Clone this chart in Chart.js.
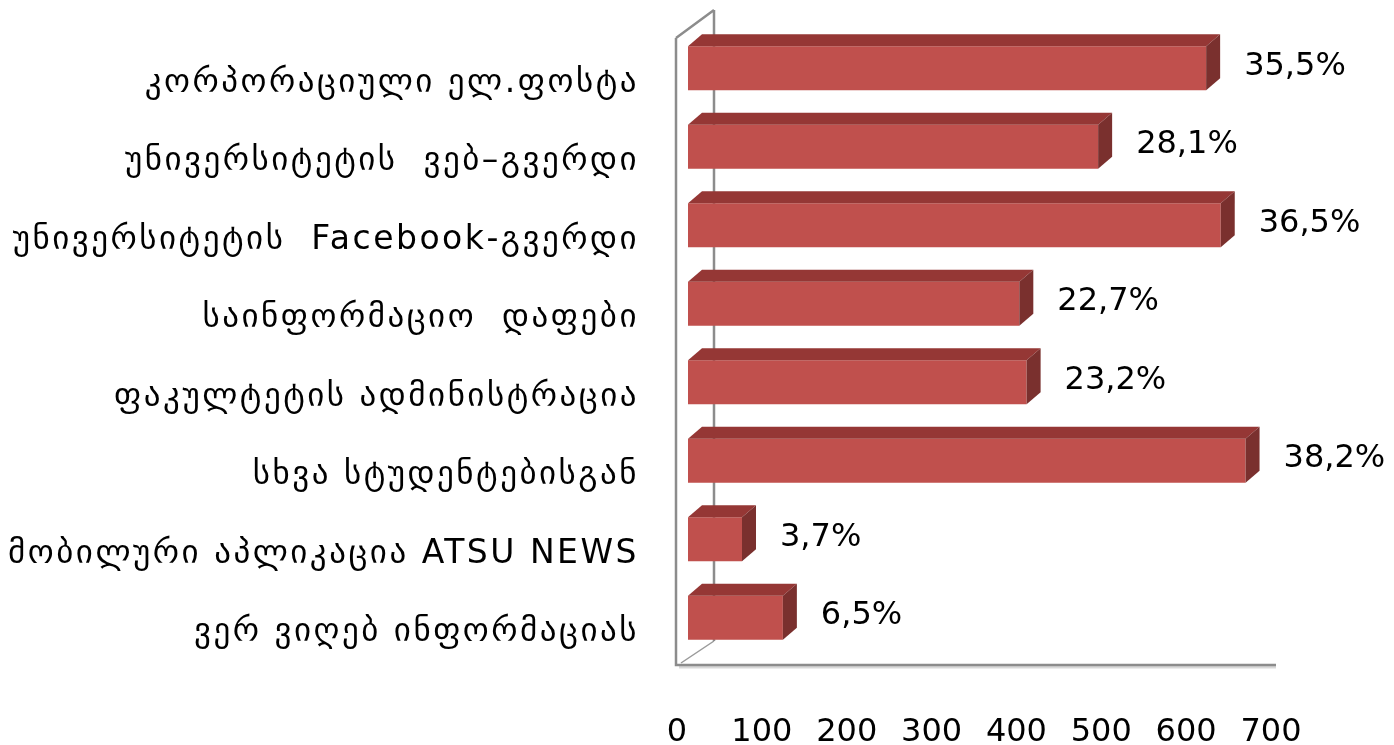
<!DOCTYPE html>
<html>
<head>
<meta charset="utf-8">
<script src="https://cdn.jsdelivr.net/npm/chart.js@4.4.1/dist/chart.umd.min.js"></script>
<style>
  html, body { margin: 0; padding: 0; background: #ffffff; }
  #wrap { width: 1394px; height: 745px; }
</style>
</head>
<body>
<div id="wrap"><canvas id="sources" width="1394" height="745"></canvas></div>
<script>
// survey: where students get university information from
var categories = [
  "კორპორაციული ელ.ფოსტა",
  "უნივერსიტეტის  ვებ–გვერდი",
  "უნივერსიტეტის  Facebook-გვერდი",
  "საინფორმაციო  დაფები",
  "ფაკულტეტის ადმინისტრაცია",
  "სხვა სტუდენტებისგან",
  "მობილური აპლიკაცია ATSU NEWS",
  "ვერ ვიღებ ინფორმაციას"
];
var percents = [35.5, 28.1, 36.5, 22.7, 23.2, 38.2, 3.7, 6.5];
var percentLabels = ["35,5%", "28,1%", "36,5%", "22,7%", "23,2%", "38,2%", "3,7%", "6,5%"];
// bottom axis counts respondents, not percent
var respondents = 1720;
var countTicks = [0, 100, 200, 300, 400, 500, 600, 700];

var front = "#c0504d", topFace = "#953735", sideFace = "#7a302e";
var depthX = 14, depthY = 12;

// back wall and floor of the 3d box
var wallPlugin = {
  id: "wall",
  beforeDatasetsDraw: function(chart) {
    var c = chart.ctx, a = chart.chartArea;
    var fl = a.left - 12, fb = a.bottom + 8, ft = a.top + 9;
    var bl = a.left + 26, bb = a.bottom - 16, bt = a.top - 19;
    c.save();
    c.lineWidth = 3;
    c.strokeStyle = "#d9d9d9";
    c.beginPath();
    c.moveTo(fl + 3, fb + 2); c.lineTo(a.right - 6, fb + 2);
    c.stroke();
    c.strokeStyle = "#8c8c8c";
    c.lineWidth = 2.5;
    c.beginPath();
    c.moveTo(bl, bt); c.lineTo(bl, bb);
    c.moveTo(fl, ft); c.lineTo(bl, bt);
    c.moveTo(fl, ft); c.lineTo(fl, fb);
    c.lineTo(a.right - 6, fb);
    c.stroke();
    c.lineWidth = 1.5;
    c.strokeStyle = "#9a9a9a";
    c.beginPath();
    c.moveTo(fl + 5, fb - 2); c.lineTo(bl, bb);
    c.stroke();
    c.restore();
  }
};

// top and side faces of each bar plus the percent labels
var boxPlugin = {
  id: "box",
  afterDatasetsDraw: function(chart) {
    var c = chart.ctx;
    var meta = chart.getDatasetMeta(0);
    c.save();
    meta.data.forEach(function(el, i) {
      var p = el.getProps(["x", "y", "base", "height"], true);
      var t = p.y - p.height / 2, b = p.y + p.height / 2;
      c.fillStyle = topFace;
      c.beginPath();
      c.moveTo(p.base, t); c.lineTo(p.x, t);
      c.lineTo(p.x + depthX, t - depthY); c.lineTo(p.base + depthX, t - depthY);
      c.closePath(); c.fill();
      c.fillStyle = sideFace;
      c.beginPath();
      c.moveTo(p.x, t); c.lineTo(p.x + depthX, t - depthY);
      c.lineTo(p.x + depthX, b - depthY); c.lineTo(p.x, b);
      c.closePath(); c.fill();
      c.fillStyle = "#000000";
      c.font = "32px 'DejaVu Sans'";
      c.textAlign = "left";
      c.textBaseline = "middle";
      c.fillText(percentLabels[i], p.x + 38, p.y - 2);
    });
    c.restore();
  }
};

new Chart(document.getElementById("sources"), {
  type: "bar",
  data: {
    labels: categories,
    datasets: [{
      data: percents,
      backgroundColor: front,
      borderWidth: 0,
      categoryPercentage: 0.8,
      barPercentage: 0.7
    }]
  },
  plugins: [wallPlugin, boxPlugin],
  options: {
    indexAxis: "y",
    responsive: false,
    animation: false,
    layout: { padding: { top: 29, right: 112, left: 0, bottom: 0 } },
    plugins: { legend: { display: false }, tooltip: { enabled: false } },
    scales: {
      x: {
        min: 0,
        max: 700 * 100 / respondents,
        grid: { display: false, drawTicks: false },
        border: { display: false },
        afterFit: function(s) { s.height = 88; s.paddingLeft = 0; s.paddingRight = 0; },
        afterBuildTicks: function(s) {
          s.ticks = countTicks.map(function(v) { return { value: v * 100 / respondents }; });
        },
        ticks: {
          padding: 56,
          labelOffset: -11,
          color: "#000000",
          font: { family: "DejaVu Sans", size: 32 },
          callback: function(v) { return String(Math.round(v * respondents / 100)); }
        }
      },
      y: {
        grid: { display: false, drawTicks: false },
        border: { display: false },
        afterFit: function(s) {
          s.width = 688; s.paddingTop = 0; s.paddingBottom = 0;
          // Georgian script reads better a little spread out
          if (!s._spaced) {
            var draw = s.drawLabels;
            s.drawLabels = function(area) {
              var c = this.ctx;
              c.save();
              c.letterSpacing = "2.5px";
              draw.call(this, area);
              c.restore();
            };
            s._spaced = true;
          }
        },
        ticks: {
          padding: 49,
          labelOffset: 15,
          color: "#000000",
          font: { family: "DejaVu Sans", size: 33 }
        }
      }
    }
  }
});
</script>
</body>
</html>
